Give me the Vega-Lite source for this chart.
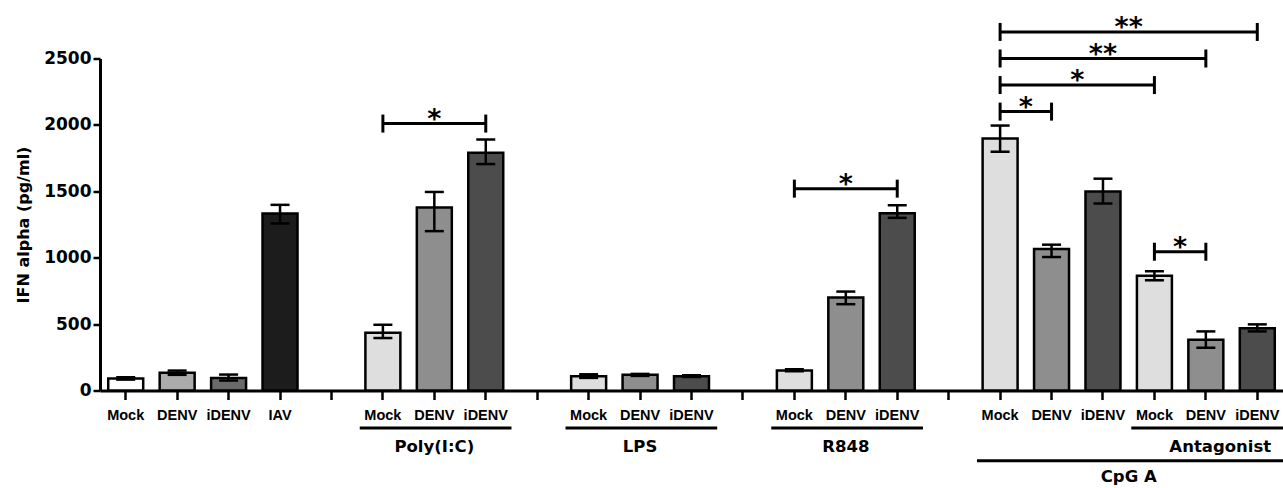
{
  "$schema": "https://vega.github.io/schema/vega-lite/v6.json",
  "width": 1183,
  "height": 332,
  "autosize": {"type": "none"},
  "padding": {"left": 100, "top": 58.5, "right": 0, "bottom": 97.5},
  "background": "white",
  "config": {
    "view": {"stroke": null},
    "font": "DejaVu Sans",
    "text": {"font": "DejaVu Sans", "fontWeight": "bold", "color": "black"}
  },
  "datasets": {
    "bars": [
      {"cat": "Mock|1", "shade": "Mock, unstimulated", "mean": 90, "lo": 82, "hi": 100},
      {"cat": "DENV|2", "shade": "DENV, unstimulated", "mean": 133, "lo": 118, "hi": 150},
      {"cat": "iDENV|3", "shade": "iDENV, unstimulated", "mean": 95, "lo": 75, "hi": 120},
      {"cat": "IAV|4", "shade": "IAV", "mean": 1332, "lo": 1258, "hi": 1398},
      {"cat": "Mock|6", "shade": "Mock", "mean": 435, "lo": 395, "hi": 495},
      {"cat": "DENV|7", "shade": "DENV", "mean": 1378, "lo": 1200, "hi": 1495},
      {"cat": "iDENV|8", "shade": "iDENV", "mean": 1790, "lo": 1705, "hi": 1890},
      {"cat": "Mock|10", "shade": "Mock", "mean": 108, "lo": 95, "hi": 122},
      {"cat": "DENV|11", "shade": "DENV", "mean": 118, "lo": 110, "hi": 125},
      {"cat": "iDENV|12", "shade": "iDENV", "mean": 108, "lo": 102, "hi": 115},
      {"cat": "Mock|14", "shade": "Mock", "mean": 150, "lo": 145, "hi": 160},
      {"cat": "DENV|15", "shade": "DENV", "mean": 700, "lo": 650, "hi": 745},
      {"cat": "iDENV|16", "shade": "iDENV", "mean": 1335, "lo": 1300, "hi": 1395},
      {"cat": "Mock|18", "shade": "Mock", "mean": 1898, "lo": 1798, "hi": 1995},
      {"cat": "DENV|19", "shade": "DENV", "mean": 1065, "lo": 1005, "hi": 1098},
      {"cat": "iDENV|20", "shade": "iDENV", "mean": 1498, "lo": 1408, "hi": 1595},
      {"cat": "Mock|21", "shade": "Mock", "mean": 865, "lo": 830, "hi": 898},
      {"cat": "DENV|22", "shade": "DENV", "mean": 382, "lo": 322, "hi": 445},
      {"cat": "iDENV|23", "shade": "iDENV", "mean": 468, "lo": 445, "hi": 498}
    ],
    "brackets": [
      {"from": "Mock|6", "to": "iDENV|8", "y": 2010},
      {"from": "Mock|14", "to": "iDENV|16", "y": 1520},
      {"from": "Mock|18", "to": "DENV|19", "y": 2100},
      {"from": "Mock|18", "to": "Mock|21", "y": 2300},
      {"from": "Mock|18", "to": "DENV|22", "y": 2500},
      {"from": "Mock|18", "to": "iDENV|23", "y": 2700},
      {"from": "Mock|21", "to": "DENV|22", "y": 1045}
    ],
    "stars_over_bar": [
      {"at": "DENV|7", "y": 2010, "label": "*"},
      {"at": "DENV|15", "y": 1520, "label": "*"},
      {"at": "iDENV|20", "y": 2500, "label": "**"}
    ],
    "stars_between_bars": [
      {"at": "Mock|18", "y": 2100, "label": "*"},
      {"at": "DENV|19", "y": 2300, "label": "*"},
      {"at": "iDENV|20", "y": 2700, "label": "**"},
      {"at": "Mock|21", "y": 1045, "label": "*"}
    ],
    "inner_groups": [
      {"label": "Poly(I:C)", "from": "Mock|6", "to": "iDENV|8", "at": "DENV|7"},
      {"label": "LPS", "from": "Mock|10", "to": "iDENV|12", "at": "DENV|11"},
      {"label": "R848", "from": "Mock|14", "to": "iDENV|16", "at": "DENV|15"},
      {"label": "Antagonist", "from": "Mock|21", "to": "iDENV|23", "at": "DENV|22"}
    ],
    "outer_groups": [
      {"label": "CpG A", "from": "Mock|18", "to": "iDENV|23", "at": "iDENV|20"}
    ]
  },
  "layer": [
    {
      "data": {"name": "bars"},
      "mark": {"type": "bar", "width": {"band": 0.68}, "stroke": "black", "strokeWidth": 2.5},
      "encoding": {
        "x": {
          "field": "cat",
          "type": "nominal",
          "title": null,
          "scale": {
            "type": "band",
            "domain": ["Mock|1", "DENV|2", "iDENV|3", "IAV|4", "|5", "Mock|6", "DENV|7", "iDENV|8", "|9", "Mock|10", "DENV|11", "iDENV|12", "|13", "Mock|14", "DENV|15", "iDENV|16", "|17", "Mock|18", "DENV|19", "iDENV|20", "Mock|21", "DENV|22", "iDENV|23"],
            "paddingInner": 0,
            "paddingOuter": 0
          },
          "axis": {
            "labelExpr": "split(datum.label, '|')[0]",
            "labelAngle": 0,
            "labelFont": "Liberation Sans",
            "labelFontWeight": "bold",
            "labelFontSize": 14.5,
            "labelColor": "black",
            "labelPadding": 9,
            "labelOverlap": false,
            "labelFlush": false,
            "labelBound": false,
            "domainColor": "black",
            "domainWidth": 3,
            "tickColor": "black",
            "tickWidth": 2.5,
            "tickSize": 9,
            "grid": false
          }
        },
        "y": {
          "field": "mean",
          "type": "quantitative",
          "title": "IFN alpha (pg/ml)",
          "scale": {"domain": [0, 2500], "nice": false},
          "axis": {
            "values": [0, 500, 1000, 1500, 2000, 2500],
            "format": "d",
            "labelFont": "DejaVu Sans",
            "labelFontWeight": "bold",
            "labelFontSize": 17,
            "labelColor": "black",
            "labelPadding": 2,
            "domainColor": "black",
            "domainWidth": 3,
            "tickColor": "black",
            "tickWidth": 2.5,
            "tickSize": 7,
            "grid": false,
            "titleFont": "DejaVu Sans",
            "titleFontWeight": "bold",
            "titleFontSize": 16,
            "titleColor": "black",
            "titlePadding": 12
          }
        },
        "fill": {
          "field": "shade",
          "type": "nominal",
          "legend": null,
          "scale": {
            "domain": ["Mock, unstimulated", "DENV, unstimulated", "iDENV, unstimulated", "IAV", "Mock", "DENV", "iDENV"],
            "range": ["#ffffff", "#ababab", "#6a6a6a", "#1c1c1c", "#dedede", "#8e8e8e", "#4c4c4c"]
          }
        }
      }
    },
    {
      "data": {"name": "bars"},
      "mark": {"type": "rule", "color": "black", "strokeWidth": 2.5},
      "encoding": {
        "x": {"field": "cat", "type": "nominal", "title": null},
        "y": {"field": "lo", "type": "quantitative", "title": "IFN alpha (pg/ml)"},
        "y2": {"field": "hi"}
      }
    },
    {
      "data": {"name": "bars"},
      "mark": {"type": "tick", "color": "black", "size": 19, "thickness": 2.5, "opacity": 1},
      "encoding": {
        "x": {"field": "cat", "type": "nominal", "title": null},
        "y": {"field": "lo", "type": "quantitative", "title": "IFN alpha (pg/ml)"}
      }
    },
    {
      "data": {"name": "bars"},
      "mark": {"type": "tick", "color": "black", "size": 19, "thickness": 2.5, "opacity": 1},
      "encoding": {
        "x": {"field": "cat", "type": "nominal", "title": null},
        "y": {"field": "hi", "type": "quantitative", "title": "IFN alpha (pg/ml)"}
      }
    },
    {
      "data": {"name": "brackets"},
      "mark": {"type": "rule", "color": "black", "strokeWidth": 3},
      "encoding": {
        "x": {"field": "from", "type": "nominal", "title": null},
        "x2": {"field": "to"},
        "y": {"field": "y", "type": "quantitative", "title": "IFN alpha (pg/ml)"}
      }
    },
    {
      "data": {"name": "brackets"},
      "mark": {"type": "tick", "orient": "vertical", "color": "black", "size": 18, "thickness": 3, "opacity": 1},
      "encoding": {
        "x": {"field": "from", "type": "nominal", "title": null},
        "y": {"field": "y", "type": "quantitative", "title": "IFN alpha (pg/ml)"}
      }
    },
    {
      "data": {"name": "brackets"},
      "mark": {"type": "tick", "orient": "vertical", "color": "black", "size": 18, "thickness": 3, "opacity": 1},
      "encoding": {
        "x": {"field": "to", "type": "nominal", "title": null},
        "y": {"field": "y", "type": "quantitative", "title": "IFN alpha (pg/ml)"}
      }
    },
    {
      "data": {"name": "stars_over_bar"},
      "mark": {"type": "text", "fontSize": 27, "fontWeight": "bold", "baseline": "alphabetic", "align": "center", "dy": 4},
      "encoding": {
        "x": {"field": "at", "type": "nominal", "title": null},
        "y": {"field": "y", "type": "quantitative", "title": "IFN alpha (pg/ml)"},
        "text": {"field": "label"}
      }
    },
    {
      "data": {"name": "stars_between_bars"},
      "mark": {"type": "text", "fontSize": 27, "fontWeight": "bold", "baseline": "alphabetic", "align": "center", "dy": 4},
      "encoding": {
        "x": {"field": "at", "type": "nominal", "title": null, "bandPosition": 1},
        "y": {"field": "y", "type": "quantitative", "title": "IFN alpha (pg/ml)"},
        "text": {"field": "label"}
      }
    },
    {
      "data": {"name": "inner_groups"},
      "mark": {"type": "rule", "color": "black", "strokeWidth": 3},
      "encoding": {
        "x": {"field": "from", "type": "nominal", "title": null, "bandPosition": 0.05},
        "x2": {"field": "to", "bandPosition": 1},
        "y": {"datum": -282, "type": "quantitative", "title": "IFN alpha (pg/ml)"}
      }
    },
    {
      "data": {"name": "inner_groups"},
      "transform": [{"filter": "datum.label != 'Antagonist'"}],
      "mark": {"type": "text", "fontSize": 16.5, "fontWeight": "bold", "baseline": "middle", "align": "center"},
      "encoding": {
        "x": {"field": "at", "type": "nominal", "title": null},
        "y": {"datum": -425, "type": "quantitative", "title": "IFN alpha (pg/ml)"},
        "text": {"field": "label"}
      }
    },
    {
      "data": {"name": "inner_groups"},
      "transform": [{"filter": "datum.label == 'Antagonist'"}],
      "mark": {"type": "text", "fontSize": 16.5, "fontWeight": "bold", "baseline": "middle", "align": "center"},
      "encoding": {
        "x": {"field": "at", "type": "nominal", "title": null, "bandPosition": 0.78},
        "y": {"datum": -425, "type": "quantitative", "title": "IFN alpha (pg/ml)"},
        "text": {"field": "label"}
      }
    },
    {
      "data": {"name": "outer_groups"},
      "mark": {"type": "rule", "color": "black", "strokeWidth": 3},
      "encoding": {
        "x": {"field": "from", "type": "nominal", "title": null, "bandPosition": 0.05},
        "x2": {"field": "to", "bandPosition": 1},
        "y": {"datum": -529, "type": "quantitative", "title": "IFN alpha (pg/ml)"}
      }
    },
    {
      "data": {"name": "outer_groups"},
      "mark": {"type": "text", "fontSize": 16.5, "fontWeight": "bold", "baseline": "middle", "align": "center"},
      "encoding": {
        "x": {"field": "at", "type": "nominal", "title": null, "bandPosition": 1},
        "y": {"datum": -651, "type": "quantitative", "title": "IFN alpha (pg/ml)"},
        "text": {"field": "label"}
      }
    }
  ]
}
